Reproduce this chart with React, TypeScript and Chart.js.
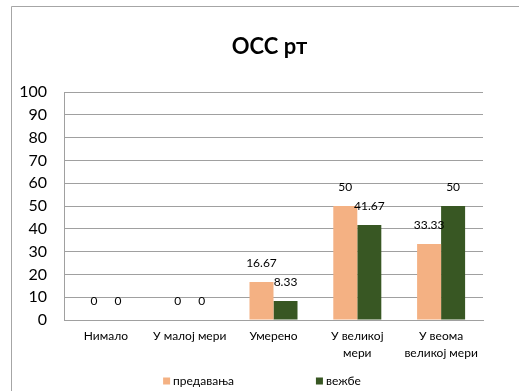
import React, { useEffect, useRef } from "react";
import { Chart, registerables } from "chart.js";

Chart.register(...registerables);

const TITLE = "OCC рт";
const categories: (string | string[])[] = [
  "Нимало",
  "У малој мери",
  "Умерено",
  ["У великој", "мери"],
  ["У веома", "великој мери"],
];
const predavanja = [0, 0, 16.67, 50, 33.33];
const vezbe = [0, 0, 8.33, 41.67, 50];
const seriesNames = ["предавања", "вежбе"];
const seriesColors = ["#F4B183", "#385723"];
const yTicks = [0, 10, 20, 30, 40, 50, 60, 70, 80, 90, 100];

const FONT = "Lato, 'Noto Sans', 'DejaVu Sans', sans-serif";

const decorPlugin = {
  id: "decor",
  afterDraw(chart: any) {
    const ctx = chart.ctx as CanvasRenderingContext2D;
    const W = chart.width;
    const H = chart.height;
    ctx.save();
    // outer frame
    ctx.strokeStyle = "#a6a6a6";
    ctx.lineWidth = 1;
    ctx.beginPath();
    ctx.moveTo(11.5, H);
    ctx.lineTo(11.5, 6.5);
    ctx.lineTo(W, 6.5);
    ctx.stroke();
    // title
    ctx.fillStyle = "#000";
    ctx.font = `bold 22px ${FONT}`;
    ctx.textAlign = "center";
    ctx.textBaseline = "middle";
    ctx.fillText(TITLE, 269.5, 47);
    // data labels
    ctx.font = `12px ${FONT}`;
    chart.data.datasets.forEach((ds: any, di: number) => {
      const meta = chart.getDatasetMeta(di);
      meta.data.forEach((el: any, i: number) => {
        const v = ds.data[i];
        ctx.fillText(String(v), el.x, el.y - 18.5);
      });
    });
    // legend
    const gap = 82;
    const box = 7;
    const items = chart.data.datasets.map((ds: any) => {
      const tw = ctx.measureText(ds.label).width;
      return { label: ds.label, color: ds.backgroundColor, w: box + 3 + tw };
    });
    const total = items.reduce((a: number, b: any) => a + b.w, 0) + gap * (items.length - 1);
    let x = 262 - total / 2;
    const ly = 381;
    ctx.textAlign = "left";
    items.forEach((it: any) => {
      ctx.fillStyle = it.color;
      ctx.fillRect(x, ly - box / 2, box, box);
      ctx.fillStyle = "#000";
      ctx.fillText(it.label, x + box + 3, ly);
      x += it.w + gap;
    });
    ctx.restore();
  },
};

export default function App() {
  const ref = useRef<HTMLCanvasElement | null>(null);
  useEffect(() => {
    if (!ref.current) return;
    const chart = new Chart(ref.current, {
      type: "bar",
      data: {
        labels: categories as any,
        datasets: [
          { label: seriesNames[0], data: predavanja, backgroundColor: seriesColors[0] },
          { label: seriesNames[1], data: vezbe, backgroundColor: seriesColors[1] },
        ],
      },
      options: {
        animation: false,
        responsive: false,
        maintainAspectRatio: false,
        layout: { padding: { top: 92, left: 12, right: 36, bottom: 0 } },
        datasets: {
          bar: { categoryPercentage: 0.573, barPercentage: 1.0 },
        },
        plugins: {
          legend: { display: false },
          title: { display: false },
          tooltip: { enabled: false },
        },
        scales: {
          x: {
            grid: { display: false, drawTicks: false },
            border: { display: true, color: "#a0a0a0" },
            ticks: {
              color: "#000",
              font: { family: FONT, size: 12, lineHeight: 1.4 },
              padding: 8,
              maxRotation: 0,
              autoSkip: false,
            },
            afterFit: (s: any) => {
              s.height = 71;
            },
          },
          y: {
            min: 0,
            max: 100,
            afterBuildTicks: (s: any) => {
              s.ticks = yTicks.map((v) => ({ value: v }));
            },
            grid: { color: "#a0a0a0", drawTicks: false },
            border: { display: true, color: "#a0a0a0" },
            ticks: {
              color: "#000",
              font: { family: FONT, size: 16 },
              padding: 17,
            },
            afterFit: (s: any) => {
              s.width = 52;
            },
          },
        },
      },
      plugins: [decorPlugin],
    });
    return () => chart.destroy();
  }, []);
  return (
    <div style={{ position: "fixed", left: 0, top: 0, width: 519, height: 391, background: "#fff" }}>
      <canvas ref={ref} width={519} height={391} style={{ display: "block" }} />
    </div>
  );
}
